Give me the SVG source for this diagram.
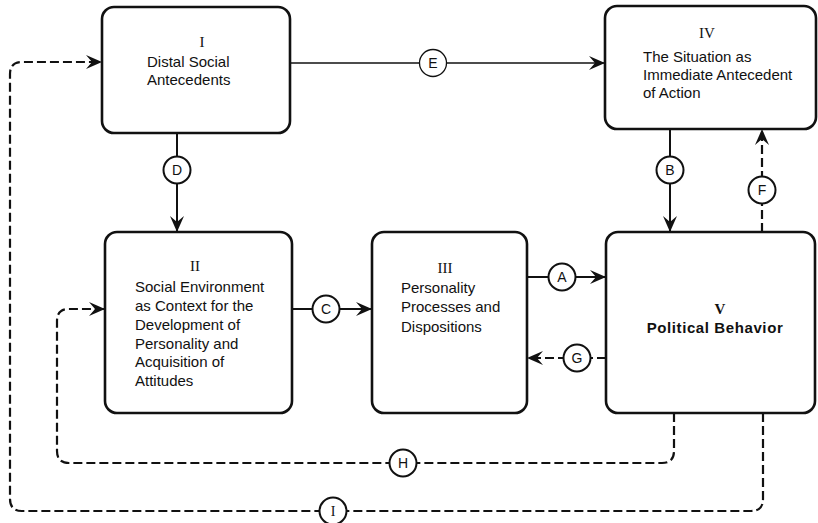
<svg xmlns="http://www.w3.org/2000/svg" width="818" height="523" viewBox="0 0 818 523">
<defs>
<style>
.box{fill:#fff;stroke:#111;stroke-width:2.6}
.t{font-family:"Liberation Sans",Arial,sans-serif;font-size:15px;fill:#111}
.rn{font-family:"Liberation Serif","Times New Roman",serif;font-size:15px;fill:#111}
.ln{fill:none;stroke:#111;stroke-width:2}
.dl{fill:none;stroke:#111;stroke-width:2.2;stroke-dasharray:9 4}
.c{fill:#fff;stroke:#111;stroke-width:2}
.cl{font-family:"Liberation Sans",Arial,sans-serif;font-size:14px;fill:#111;text-anchor:middle}
</style>
<marker id="ah" markerUnits="userSpaceOnUse" markerWidth="18" markerHeight="14" refX="16" refY="7" orient="auto">
<path d="M0,0 L16,7 L0,14 L6,7 Z" fill="#111"/>
</marker>
</defs>
<rect width="818" height="523" fill="#fff"/>
<g id="connectors">
<path class="dl" d="M763,413 L763,499 Q763,511 751,511 L22,511 Q10,511 10,499 L10,74 Q10,62 22,62 L102,62" marker-end="url(#ah)"/>
<path class="dl" d="M674,413 L674,451 Q674,463 662,463 L69,463 Q57,463 57,451 L57,321 Q57,309 69,309 L105,309" marker-end="url(#ah)"/>
<path class="ln" style="stroke-width:1.5" d="M290,63 L605,63" marker-end="url(#ah)"/>
<path class="ln" d="M177,133 L177,232" marker-end="url(#ah)"/>
<path class="ln" d="M670,129 L670,232" marker-end="url(#ah)"/>
<path class="dl" d="M762,232 L762,129" marker-end="url(#ah)"/>
<path class="ln" d="M292,309 L372,309" marker-end="url(#ah)"/>
<path class="ln" d="M527,277 L606,277" marker-end="url(#ah)"/>
<path class="dl" d="M606,358 L527,358" marker-end="url(#ah)"/>
<g id="label-E"><circle class="c" style="stroke-width:1.3" cx="433" cy="63" r="13.5"/><text class="cl" x="433" y="68">E</text></g>
<g id="label-D"><circle class="c" cx="177" cy="170" r="13.5"/><text class="cl" x="177" y="175">D</text></g>
<g id="label-B"><circle class="c" cx="670" cy="170" r="13.5"/><text class="cl" x="670" y="175">B</text></g>
<g id="label-F"><circle class="c" cx="762" cy="190" r="13.5"/><text class="cl" x="762" y="195">F</text></g>
<g id="label-C"><circle class="c" cx="326" cy="309" r="13.5"/><text class="cl" x="326" y="314">C</text></g>
<g id="label-A"><circle class="c" cx="562" cy="277" r="13.5"/><text class="cl" x="562" y="282">A</text></g>
<g id="label-G"><circle class="c" cx="577" cy="358" r="13.5"/><text class="cl" x="577" y="363">G</text></g>
<g id="label-H"><circle class="c" cx="403" cy="463" r="13.5"/><text class="cl" x="403" y="468">H</text></g>
<g id="label-I"><circle class="c" cx="333" cy="511" r="13.5"/><text class="cl" x="333" y="516" style="font-family:'Liberation Serif',serif">I</text></g>
</g>
<g id="node-I">
<rect class="box" x="102" y="7" width="188" height="126" rx="12"/>
<text class="rn" x="202" y="47" text-anchor="middle">I</text>
<text class="t" x="147" y="67">Distal Social</text>
<text class="t" x="147" y="85">Antecedents</text>
</g>
<g id="node-IV">
<rect class="box" x="605" y="6" width="211" height="123" rx="12"/>
<text class="rn" x="707" y="38" text-anchor="middle">IV</text>
<text class="t" x="643" y="62">The Situation as</text>
<text class="t" x="643" y="80">Immediate Antecedent</text>
<text class="t" x="643" y="98">of Action</text>
</g>
<g id="node-II">
<rect class="box" x="105" y="232" width="187" height="181" rx="12"/>
<text class="rn" x="195" y="271" text-anchor="middle">II</text>
<text class="t" x="135" y="292">Social Environment</text>
<text class="t" x="135" y="311">as Context for the</text>
<text class="t" x="135" y="330">Development of</text>
<text class="t" x="135" y="349">Personality and</text>
<text class="t" x="135" y="367">Acquisition of</text>
<text class="t" x="135" y="386">Attitudes</text>
</g>
<g id="node-III">
<rect class="box" x="372" y="232" width="155" height="181" rx="12"/>
<text class="rn" x="445" y="273" text-anchor="middle">III</text>
<text class="t" x="401" y="293">Personality</text>
<text class="t" x="401" y="312">Processes and</text>
<text class="t" x="401" y="332">Dispositions</text>
</g>
<g id="node-V">
<rect class="box" x="606" y="232" width="209" height="181" rx="12"/>
<text class="rn" x="720" y="314" text-anchor="middle" font-weight="bold">V</text>
<text class="t" x="715" y="333" text-anchor="middle" font-weight="bold" letter-spacing="0.6">Political Behavior</text>
</g>
</svg>
